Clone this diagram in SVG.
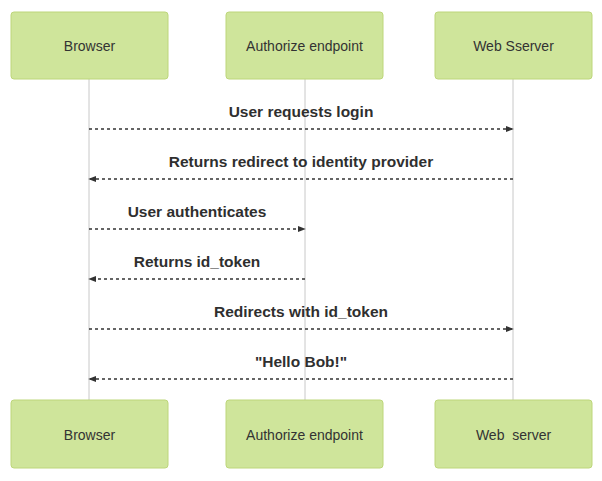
<svg xmlns="http://www.w3.org/2000/svg" width="602" height="481" viewBox="0 0 602 481">
<style>
.actor{fill:#cfe59b;stroke:#bdd67a;stroke-width:1}
.atext{font-family:"Liberation Sans",Arial,sans-serif;font-size:14px;fill:#333;text-anchor:middle;dominant-baseline:central;white-space:pre}
.life{stroke:#c8c8c8;stroke-width:1}
.msg{stroke:#333;stroke-width:1.5;stroke-dasharray:3,3;fill:none}
.mtext{font-family:"Liberation Sans",Arial,sans-serif;font-size:15.5px;font-weight:bold;fill:#2f2f2f;text-anchor:middle}
</style>
<defs>
<marker id="arr" viewBox="0 0 10 10" refX="9" refY="5" markerWidth="8" markerHeight="8" markerUnits="userSpaceOnUse" orient="auto">
<path d="M0,1 L10,5 L0,9 z" fill="#333"/>
</marker>
</defs>
<rect width="602" height="481" fill="#fff"/>
<g id="lifelines">
<line class="life" x1="89" y1="79" x2="89" y2="400"/>
<line class="life" x1="305" y1="79" x2="305" y2="400"/>
<line class="life" x1="513" y1="79" x2="513" y2="400"/>
</g>
<g id="browser-top"><rect class="actor" x="11" y="12" width="157" height="67" rx="3"/><text class="atext" x="89.5" y="46">Browser</text></g>
<g id="auth-top"><rect class="actor" x="226" y="12" width="157" height="67" rx="3"/><text class="atext" x="304.5" y="46">Authorize endpoint</text></g>
<g id="web-top"><rect class="actor" x="435" y="12" width="157" height="67" rx="3"/><text class="atext" x="513.5" y="46">Web Sserver</text></g>
<g id="browser-bottom"><rect class="actor" x="11" y="400" width="157" height="68" rx="3"/><text class="atext" x="89.5" y="435">Browser</text></g>
<g id="auth-bottom"><rect class="actor" x="226" y="400" width="157" height="68" rx="3"/><text class="atext" x="304.5" y="435">Authorize endpoint</text></g>
<g id="web-bottom"><rect class="actor" x="435" y="400" width="157" height="68" rx="3"/><text class="atext" x="513.5" y="435">Web  server</text></g>
<g id="connectors">
<line class="msg" x1="89" y1="129" x2="513" y2="129" marker-end="url(#arr)"/>
<line class="msg" x1="513" y1="179" x2="89" y2="179" marker-end="url(#arr)"/>
<line class="msg" x1="89" y1="229" x2="305" y2="229" marker-end="url(#arr)"/>
<line class="msg" x1="305" y1="279" x2="89" y2="279" marker-end="url(#arr)"/>
<line class="msg" x1="89" y1="329" x2="513" y2="329" marker-end="url(#arr)"/>
<line class="msg" x1="513" y1="379" x2="89" y2="379" marker-end="url(#arr)"/>
<text class="mtext" x="301" y="117">User requests login</text>
<text class="mtext" x="301" y="167">Returns redirect to identity provider</text>
<text class="mtext" x="197" y="217">User authenticates</text>
<text class="mtext" x="197" y="267">Returns id_token</text>
<text class="mtext" x="301" y="317">Redirects with id_token</text>
<text class="mtext" x="301" y="367">"Hello Bob!"</text>
</g>
</svg>
